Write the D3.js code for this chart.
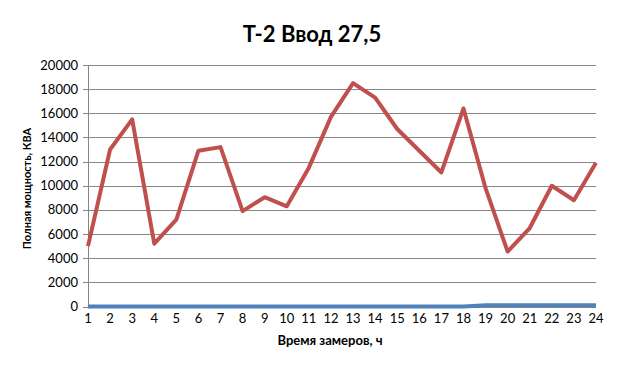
<!DOCTYPE html>
<html>
<head>
<meta charset="utf-8">
<script src="https://cdn.jsdelivr.net/npm/d3@7"></script>
<style>
  body { margin: 0; background: #fff; }
  text { font-family: Lato, "Liberation Sans", sans-serif; }
</style>
</head>
<body>
<div id="chart"></div>
<script>
let width = 623;
let height = 368;

let hours = d3.range(1, 25); // 1..24
let fullPower = [5000, 13000, 15500, 5200, 7200, 12900, 13200, 7900, 9050, 8300, 11500, 15700,
  18500, 17300, 14700, 12900, 11100, 16400, 9800, 4550, 6500, 10000, 8800, 11900];
let secondSeries = [0, 0, 0, 0, 0, 0, 0, 0, 0, 0, 0, 0,
  0, 0, 0, 0, 0, 0, 100, 100, 100, 100, 100, 100];
let yTicks = d3.range(0, 20001, 2000);

let margin = { left: 88, right: 27, top: 65, bottom: 61.5 };

let svg = d3.select("#chart").append("svg")
  .attr("width", width)
  .attr("height", height);

let x = d3.scalePoint()
  .domain(hours)
  .range([margin.left, width - margin.right]);

let y = d3.scaleLinear()
  .domain([0, 20000])
  .range([height - margin.bottom, margin.top]);

// gridlines
svg.append("g")
  .selectAll("line")
  .data(yTicks)
  .join("line")
  .attr("x1", margin.left - 5)
  .attr("x2", width - margin.right)
  .attr("y1", d => Math.round(y(d)) + 0.5)
  .attr("y2", d => Math.round(y(d)) + 0.5)
  .attr("stroke", "#868686")
  .attr("stroke-width", 1);

// y axis line
svg.append("line")
  .attr("x1", margin.left + 0.5)
  .attr("x2", margin.left + 0.5)
  .attr("y1", y(20000))
  .attr("y2", y(0))
  .attr("stroke", "#868686");

// y tick labels
svg.append("g")
  .selectAll("text")
  .data(yTicks)
  .join("text")
  .attr("x", margin.left - 10)
  .attr("y", d => y(d) + 4.5)
  .attr("text-anchor", "end")
  .attr("font-size", "13px")
  .attr("fill", "#000")
  .text(d => d);

// x tick labels
svg.append("g")
  .selectAll("text")
  .data(hours)
  .join("text")
  .attr("x", d => x(d))
  .attr("y", height - margin.bottom + 16)
  .attr("text-anchor", "middle")
  .attr("font-size", "13px")
  .attr("fill", "#000")
  .text(d => d);

let line = d3.line()
  .x((d, i) => x(hours[i]))
  .y(d => y(d));

svg.append("path")
  .datum(secondSeries)
  .attr("d", line)
  .attr("fill", "none")
  .attr("stroke", "#4F81BD")
  .attr("stroke-width", 4);

svg.append("path")
  .datum(fullPower)
  .attr("d", line)
  .attr("fill", "none")
  .attr("stroke", "#C0504D")
  .attr("stroke-width", 4)
  .attr("stroke-linejoin", "round");

// titles
svg.append("text")
  .attr("x", 312)
  .attr("y", 42)
  .attr("text-anchor", "middle")
  .attr("font-size", "22px")
  .attr("font-weight", "bold")
  .text("Т-2 Ввод 27,5");

svg.append("text")
  .attr("x", 330)
  .attr("y", 345)
  .attr("text-anchor", "middle")
  .attr("font-size", "13px")
  .attr("font-weight", "bold")
  .text("Время замеров, ч");

svg.append("text")
  .attr("transform", "translate(31,188.5) rotate(-90)")
  .attr("text-anchor", "middle")
  .attr("font-family", "'Liberation Sans', Arial, sans-serif")
  .attr("font-size", "11px")
  .attr("font-weight", "bold")
  .text("Полная мощность, КВА");
</script>
</body>
</html>
